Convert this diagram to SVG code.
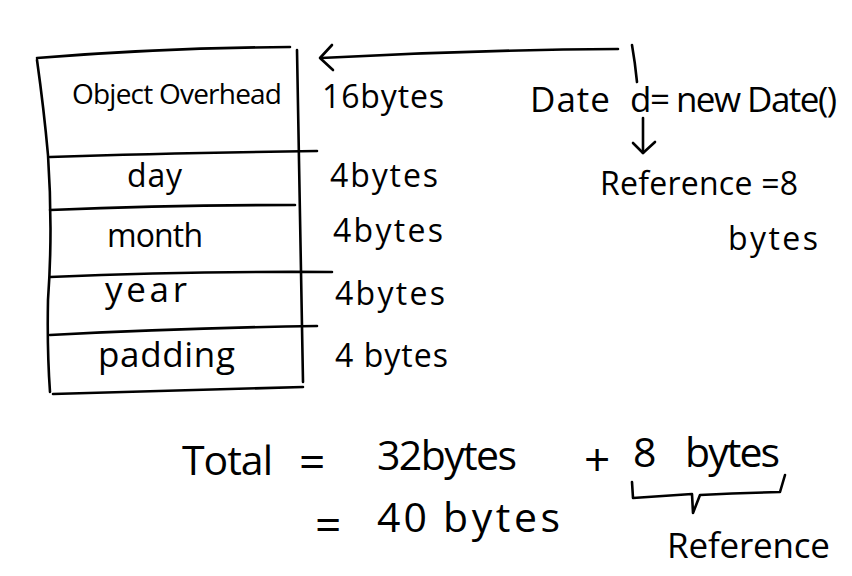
<svg xmlns="http://www.w3.org/2000/svg" width="852" height="576" viewBox="0 0 852 576">
<style>
.ln{fill:none;stroke:#000;stroke-width:2.6;stroke-linecap:round;stroke-linejoin:round}
.t{font-family:"Open Sans","DejaVu Sans",sans-serif;fill:#000}
.s{font-size:28px}
.m{font-size:32px}
.l{font-size:35px}
.x{font-size:41px}
.e{font-size:46px}
</style>
<rect width="852" height="576" fill="#fff"/>
<g id="memory-layout">
  <path class="ln" d="M37 58 Q160 48 290 47"/>
  <path class="ln" d="M37 60 Q44 110 48 155 Q53 230 48 300 Q47 350 50 392"/>
  <path class="ln" d="M297 50 Q300 220 303 382"/>
  <path class="ln" d="M50 157 Q170 153 317 151"/>
  <path class="ln" d="M50 210 Q170 205 295 205"/>
  <path class="ln" d="M50 277 Q190 271 332 272"/>
  <path class="ln" d="M50 335 Q180 328 317 326"/>
  <path class="ln" d="M53 394 Q180 390 303 387"/>
  <g id="overhead"><text class="t s" x="72" y="104" textLength="210" lengthAdjust="spacing">Object Overhead</text></g>
  <g id="day"><text class="t m" x="127" y="187" textLength="55" lengthAdjust="spacing">day</text></g>
  <g id="month"><text class="t m" x="107" y="247" textLength="96" lengthAdjust="spacing">month</text></g>
  <g id="year"><text class="t l" x="105" y="302" textLength="82" lengthAdjust="spacing">year</text></g>
  <g id="padding"><text class="t l" x="98" y="367" textLength="137" lengthAdjust="spacing">padding</text></g>
</g>
<g id="sizes">
  <text class="t m" x="322" y="108" textLength="122" lengthAdjust="spacing">16bytes</text>
  <text class="t m" x="330" y="187" textLength="108" lengthAdjust="spacing">4bytes</text>
  <text class="t m" x="333" y="242" textLength="110" lengthAdjust="spacing">4bytes</text>
  <text class="t m" x="335" y="305" textLength="110" lengthAdjust="spacing">4bytes</text>
  <text class="t m" x="335" y="367" textLength="113" lengthAdjust="spacing">4 bytes</text>
</g>
<g id="declaration">
  <text class="t l" x="530" y="112" textLength="80" lengthAdjust="spacing">Date</text>
  <text class="t l" x="630" y="112" textLength="207" lengthAdjust="spacing">d= new Date()</text>
</g>
<g id="reference">
  <text class="t m" x="600" y="195" textLength="198" lengthAdjust="spacing">Reference =8</text>
  <text class="t m" x="728" y="250" textLength="90" lengthAdjust="spacing">bytes</text>
</g>
<g id="total">
  <text class="t x" x="182" y="475" textLength="91" lengthAdjust="spacing">Total</text>
  <text class="t e" x="299" y="478">=</text>
  <text class="t x" x="377" y="470" textLength="140" lengthAdjust="spacing">32bytes</text>
  <text class="t e" x="584" y="476">+</text>
  <text class="t x" x="633" y="467">8</text>
  <text class="t x" x="685" y="467" textLength="95" lengthAdjust="spacing">bytes</text>
  <text class="t e" x="315" y="541">=</text>
  <text class="t x" x="377" y="532" textLength="50" lengthAdjust="spacing">40</text>
  <text class="t x" x="443" y="532" textLength="117" lengthAdjust="spacing">bytes</text>
  <text class="t l" x="667" y="558" textLength="163" lengthAdjust="spacing">Reference</text>
</g>
<g id="connectors">
  <path class="ln" d="M632 45 Q635 62 637 82"/>
  <path class="ln" d="M618 49 Q470 50 321 58"/>
  <path class="ln" d="M332 45 L320 58 L333 70"/>
  <path class="ln" d="M643 118 L643 153"/>
  <path class="ln" d="M633 143 L643 153 L655 142"/>
  <path class="ln" d="M632 482 L633 498 Q663 496 692 494 L693 513 L700 495 Q740 493 780 492 L785 475"/>
</g>
</svg>
